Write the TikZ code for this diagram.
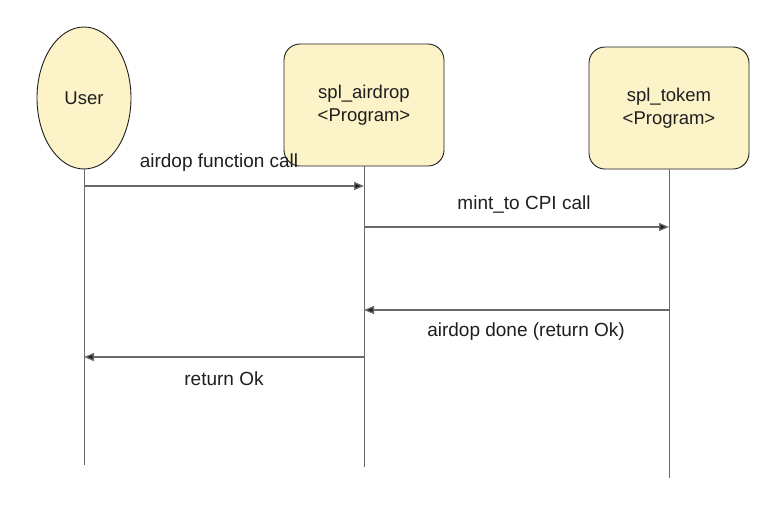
\documentclass[tikz,border=0pt]{standalone}
\usepackage{fontspec}
\setmainfont{Liberation Sans}
\usetikzlibrary{shapes.geometric,arrows.meta}
\definecolor{ink}{HTML}{1E1E1E}
\definecolor{fillyel}{HTML}{FDF3C8}
\definecolor{lifegray}{HTML}{6A6A6A}
\tikzset{
  actor/.style={draw=ink, line width=0.9pt, fill=fillyel, text=ink, align=center, font=\fontsize{18.5}{23}\selectfont},
  progbox/.style={actor, rounded corners=16pt, minimum width=160pt, minimum height=122pt, inner sep=0pt},
  userell/.style={actor, ellipse, minimum width=94pt, minimum height=142pt, inner sep=0pt},
  lifeline/.style={draw=lifegray, line width=1pt},
  msg/.style={draw=lifegray, line width=1.3pt, -{Triangle[length=10pt,width=8pt,fill=ink]}},
  msglabel/.style={text=ink, font=\fontsize{19}{22}\selectfont, inner sep=0pt}
}
\begin{document}
\begin{tikzpicture}[x=1pt,y=-1pt]
\useasboundingbox (0,0) rectangle (778,504);
% actors
\node[userell] (user) at (84,98) {User};
\node[progbox] (air) at (364,105) {spl\_airdrop\\{<}Program{>}};
\node[progbox] (tok) at (669,108) {spl\_tokem\\{<}Program{>}};
% lifeline ends
\coordinate (uend) at (user.south |- 0,465);
\coordinate (aend) at (air.south |- 0,467);
\coordinate (tend) at (tok.south |- 0,478);
\draw[lifeline] (user.south) -- (uend);
\draw[lifeline] (air.south) -- (aend);
\draw[lifeline] (tok.south) -- (tend);
% message points
\coordinate (u1) at (user.south |- 0,186);
\coordinate (a1) at (air.south |- 0,186);
\coordinate (a2) at (air.south |- 0,227);
\coordinate (t2) at (tok.south |- 0,227);
\coordinate (t3) at (tok.south |- 0,310);
\coordinate (a3) at (air.south |- 0,310);
\coordinate (a4) at (air.south |- 0,357);
\coordinate (u4) at (user.south |- 0,357);
% messages
\draw[msg] (u1) -- (a1);
\draw[msg] (a2) -- (t2);
\draw[msg] (t3) -- (a3);
\draw[msg] (a4) -- (u4);
% labels
\node[msglabel] (l1) at (219,163) {airdop function call};
\node[msglabel] (l2) at (524,204) {mint\_to CPI call};
\node[msglabel] (l3) at (526,332) {airdop done (return Ok)};
\node[msglabel] (l4) at (224,379) {return Ok};
\end{tikzpicture}
\end{document}
